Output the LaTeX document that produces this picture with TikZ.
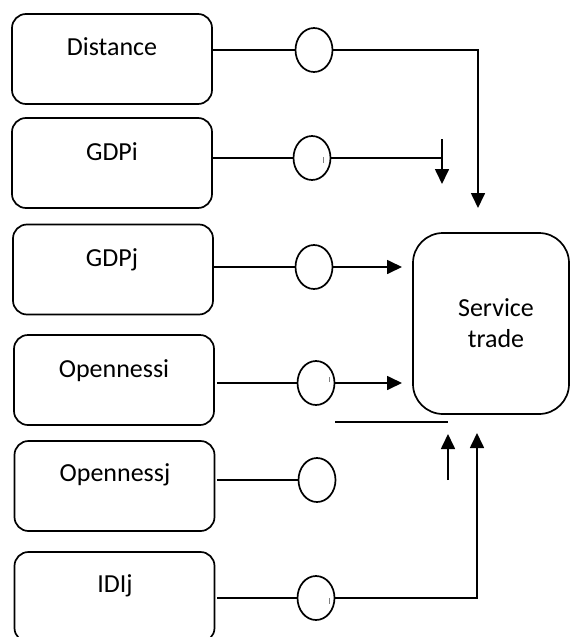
\documentclass[tikz,border=0pt]{standalone}
\usepackage{fontspec}
\setmainfont{Carlito}
\usetikzlibrary{arrows.meta,shapes.geometric}
\begin{document}
\begin{tikzpicture}[x=1pt,y=-1pt,line width=1.7pt,
  inbox/.style={draw,line width=1.7pt,rounded corners=14pt,minimum width=200pt,minimum height=90pt,inner sep=0pt},
  outbox/.style={draw,line width=1.7pt,rounded corners=30pt,minimum width=156pt,minimum height=181pt,inner sep=0pt},
  lbl/.style={font=\fontsize{26}{31}\selectfont,anchor=base,inner sep=0pt},
  oval/.style={draw,ellipse,line width=1.7pt,minimum width=37pt,minimum height=44pt,inner sep=0pt},
  arr/.style={-{Triangle[width=14pt,length=15pt]}},
  tick/.style={line width=0.8pt,draw=gray}]
\useasboundingbox (0,0) rectangle (572,637);
\clip (0,0) rectangle (572,637);
% input boxes
\node[inbox] (b1) at (112,59) {};
\node[inbox] (b2) at (112,163) {};
\node[inbox] (b3) at (113,269.5) {};
\node[inbox] (b4) at (114,380) {};
\node[inbox] (b5) at (114.5,486) {};
\node[inbox] (b6) at (114.5,597) {};
\node[lbl] (t1) at (112,55) {Distance};
\node[lbl] (t2) at (112,160) {GDPi};
\node[lbl] (t3) at (112,266) {GDPj};
\node[lbl] (t4) at (114,377) {Opennessi};
\node[lbl] (t5) at (115,481) {Opennessj};
\node[lbl] (t6) at (115,592) {IDIj};
% output box
\node[outbox] (st) at (491,323.5) {};
\node[lbl] (s1) at (496,316) {Service};
\node[lbl] (s2) at (496,347) {trade};
% ovals
\node[oval] (c1) at (314,50) {};
\node[oval] (c2) at (312,158) {};
\node[oval] (c3) at (314,267) {};
\node[oval] (c4) at (316,383) {};
\node[oval] (c5) at (317,480) {};
\node[oval] (c6) at (316,598) {};
% small marks in ovals
\draw[tick] (323,157) -- (323,163);
\draw[tick] (329,377) -- (329,382);
\draw[tick] (329,598) -- (329,604);
% coordinates
\coordinate (k1) at (478,50);
\coordinate (e1) at (478,208);
\coordinate (k2) at (442,158);
\coordinate (v2) at (442,139);
\coordinate (e2) at (442,184);
\coordinate (a3) at (402,267);
\coordinate (a4) at (402,383);
\coordinate (h1) at (335,422);
\coordinate (h2) at (448,422);
\coordinate (u1) at (448,480);
\coordinate (u2) at (448,434);
\coordinate (k6) at (477,598);
\coordinate (e6) at (477,433);
% connectors
\draw (b1.east |- c1) -- (c1);
\draw[arr] (c1) -- (k1) -- (e1);
\draw (b2.east |- c2) -- (c2);
\draw (c2) -- (k2);
\draw[arr] (v2) -- (e2);
\draw (b3.east |- c3) -- (c3);
\draw[arr] (c3) -- (a3);
\draw ([xshift=2pt]b4.east |- c4) -- (c4);
\draw[arr] (c4) -- (a4);
\draw (h1) -- (h2);
\draw[arr] (u1) -- (u2);
\draw ([xshift=2pt]b5.east |- c5) -- (c5);
\draw ([xshift=2pt]b6.east |- c6) -- (c6);
\draw[arr] (c6) -- (k6) -- (e6);
\end{tikzpicture}
\end{document}
